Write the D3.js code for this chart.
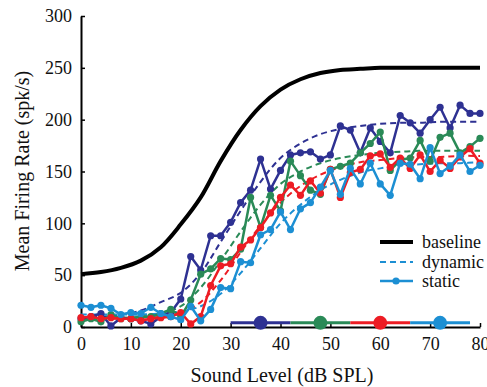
<!DOCTYPE html>
<html>
<head>
<meta charset="utf-8">
<script src="https://cdn.jsdelivr.net/npm/d3@7"></script>
<style>
body { margin: 0; background: #fff; }
svg { display: block; }
svg text { font-family: 'Liberation Serif', 'DejaVu Serif', serif; }
</style>
</head>
<body>
<svg id="chart" width="487" height="387"></svg>
<script>
// sound levels (dB SPL) of the measured points
const soundLevels = [0,2,4,6,8,10,12,14,16,18,20,22,24,26,28,30,32,34,36,38,40,
                     42,44,46,48,50,52,54,56,58,60,62,64,66,68,70,72,74,76,78,80]
// firing rates for each adaptation context (spk/s)
const navyRates  = [8,10,13,1,9,8,6,3,10,14, 27,68,55,88,88,101,120,132,162,133,
                    151,166,168,169,162,166,194,190,168,192, 179,168,204,197,187,200,212,192,214,206, 206]
const greenRates = [5,8,5,12,8,8,10,10,13,17, 10,26,51,56,66,65,75,125,96,127,
                    112,160,146,132,128,152,155,158,168,177, 188,151,161,163,180,160,183,187,168,174, 182]
const redRates   = [9,10,8,9,8,8,6,8,9,10, 14,3,10,40,59,61,77,84,96,110,
                    125,137,127,141,129,152,125,149,152,165, 167,154,163,153,166,150,161,153,164,172, 158]
const blueRates  = [21,19,21,18,12,14,13,19,13,10, 7,20,6,17,38,37,63,62,89,94,
                    111,94,114,120,135,151,128,153,138,158, 138,127,158,157,143,173,148,155,166,150, 156]

// fitted curves, read every 4 dB
const fitLevels = [0,4,8,12,16,20,24,28,32,36,40,44,48,52,56,60,64,68,72,76,80]
const baselineFit = [51,53,57,64,77,99,125,160,190,213,229,239,245,248,249,250,250,250,250,250,250]
const navyFit  = [9,10,12,16,24,33,52,82,112,140,163,177,186,191,194,196,197,197,198,198,198]
const greenFit = [8,8,9,10,13,20,38,64,92,118,138,150,158,163,166,168,169,170,170,170,170]
const redFit   = [8,8,8,9,10,13,24,45,72,98,120,136,147,154,159,161,163,164,164,165,165]
const blueFit  = [12,12,12,12,13,15,20,32,52,76,100,118,132,142,149,153,156,157,158,158,159]

// adaptor level ranges shown along the bottom
const adaptStart  = [30,42,54,66]
const adaptEnd    = [42,54,66,78]
const adaptCenter = [36,48,60,72]
const adaptRate = 4

const yTicks = [0,50,100,150,200,250,300]
const xTicks = [0,10,20,30,40,50,60,70,80]

const colors = ['#2e3192', '#2a8a57', '#ed1c24', '#1c8fd3']
const serif = "'Liberation Serif', 'DejaVu Serif', serif"

const svg = d3.select('#chart')
const x = d3.scaleLinear().domain([0, 80]).range([81, 480])
const y = d3.scaleLinear().domain([0, 300]).range([327, 16])

// axes
const yAxis = svg.append('g')
    .attr('transform', 'translate(81,0)')
    .call(d3.axisLeft(y).tickValues(yTicks).tickSize(-4).tickSizeOuter(0).tickPadding(9))
const xAxis = svg.append('g')
    .attr('transform', 'translate(0,327)')
    .call(d3.axisBottom(x).tickValues(xTicks).tickSize(-4).tickSizeOuter(0).tickPadding(10))

;[xAxis, yAxis].forEach(function(g) {
    g.attr('font-family', null)
    g.select('.domain').attr('stroke', '#000').attr('stroke-width', 2)
    g.selectAll('.tick line').attr('stroke', '#000').attr('stroke-width', 1.5)
    g.selectAll('.tick text').style('font-family', serif).style('font-size', '18px').attr('fill', '#111')
})

svg.append('text')
    .attr('x', 282).attr('y', 382)
    .attr('text-anchor', 'middle')
    .style('font-family', serif).style('font-size', '20px').attr('fill', '#111')
    .text('Sound Level (dB SPL)')
svg.append('text')
    .attr('transform', 'translate(29,171) rotate(-90)')
    .attr('text-anchor', 'middle')
    .style('font-family', serif).style('font-size', '20px').attr('fill', '#111')
    .text('Mean Firing Rate (spk/s)')

const fitLine = d3.line()
    .x(function(d, i) { return x(fitLevels[i]) })
    .y(function(d) { return y(d) })
    .curve(d3.curveCatmullRom)
const rateLine = d3.line()
    .x(function(d, i) { return x(soundLevels[i]) })
    .y(function(d) { return y(d) })

// baseline rate-level function
svg.append('path')
    .attr('d', fitLine(baselineFit))
    .attr('fill', 'none').attr('stroke', '#000').attr('stroke-width', 4)

// dynamic fits
const fits = [navyFit, greenFit, redFit, blueFit]
fits.forEach(function(f, k) {
    svg.append('path')
        .attr('d', fitLine(f))
        .attr('fill', 'none')
        .attr('stroke', colors[k]).attr('stroke-width', 2)
        .attr('stroke-dasharray', '6,4')
})

// static measurements
const series = [navyRates, greenRates, redRates, blueRates]
series.forEach(function(s, k) {
    svg.append('path')
        .attr('d', rateLine(s))
        .attr('fill', 'none')
        .attr('stroke', colors[k]).attr('stroke-width', 2.5)
        .attr('stroke-linejoin', 'round')
    svg.selectAll('.dot' + k)
        .data(s)
        .enter()
        .append('circle')
        .attr('cx', function(d, i) { return x(soundLevels[i]) })
        .attr('cy', function(d) { return y(d) })
        .attr('r', 3.6)
        .attr('fill', colors[k])
})

// adaptor ranges
adaptCenter.forEach(function(c, k) {
    svg.append('line')
        .attr('x1', x(adaptStart[k])).attr('x2', x(adaptEnd[k]))
        .attr('y1', y(adaptRate)).attr('y2', y(adaptRate))
        .attr('stroke', colors[k]).attr('stroke-width', 3)
})
adaptCenter.forEach(function(c, k) {
    svg.append('circle')
        .attr('cx', x(c)).attr('cy', y(adaptRate))
        .attr('r', 7)
        .attr('fill', colors[k])
})

// legend
const legend = svg.append('g')
const rows = [{name: 'baseline', y: 242}, {name: 'dynamic', y: 262}, {name: 'static', y: 281}]
legend.append('line').attr('x1', 380).attr('x2', 413).attr('y1', rows[0].y).attr('y2', rows[0].y)
    .attr('stroke', '#000').attr('stroke-width', 4)
legend.append('line').attr('x1', 380).attr('x2', 413).attr('y1', rows[1].y).attr('y2', rows[1].y)
    .attr('stroke', colors[3]).attr('stroke-width', 2).attr('stroke-dasharray', '6,4')
legend.append('line').attr('x1', 380).attr('x2', 413).attr('y1', rows[2].y).attr('y2', rows[2].y)
    .attr('stroke', colors[3]).attr('stroke-width', 2.5)
legend.append('circle').attr('cx', 396).attr('cy', rows[2].y).attr('r', 3.6).attr('fill', colors[3])
legend.selectAll('text')
    .data(rows)
    .enter()
    .append('text')
    .attr('x', 422)
    .attr('y', function(d) { return d.y })
    .attr('dy', '0.32em')
    .style('font-family', serif).style('font-size', '18px').attr('fill', '#111')
    .text(function(d) { return d.name })
</script>
</body>
</html>
